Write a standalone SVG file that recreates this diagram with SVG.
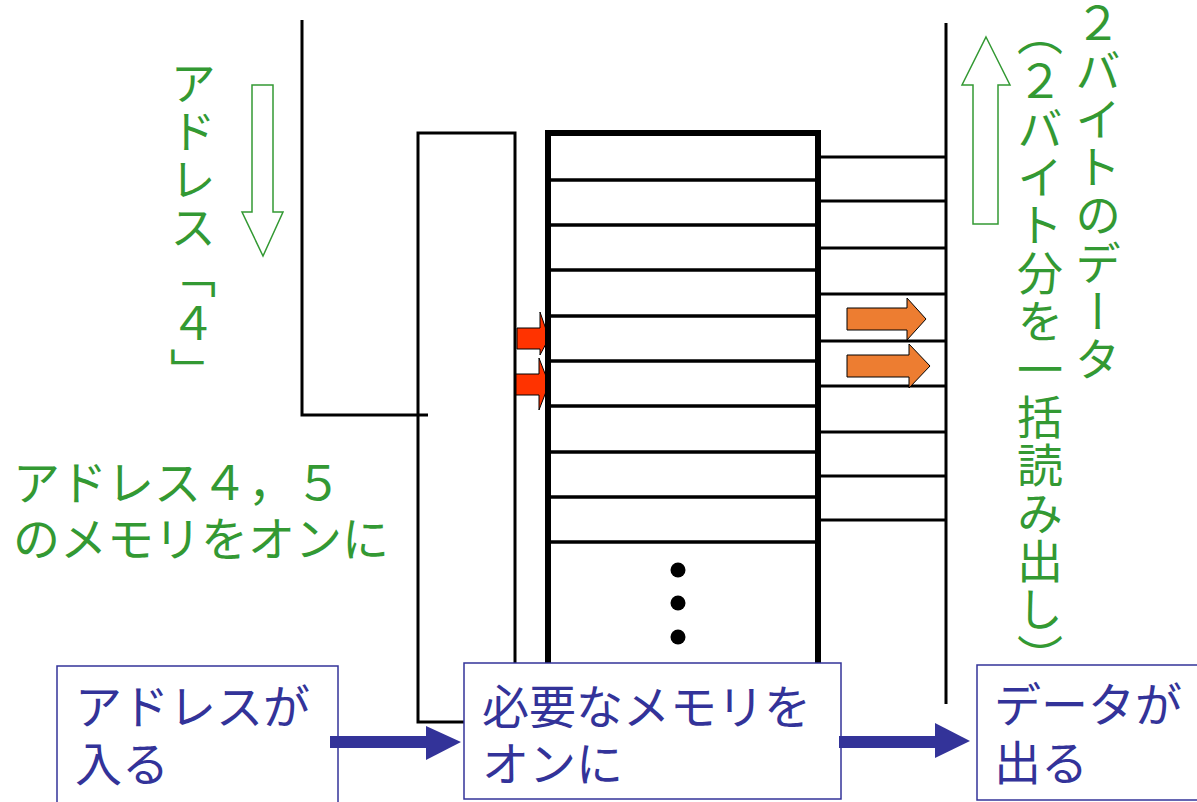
<svg xmlns="http://www.w3.org/2000/svg" width="1197" height="802" viewBox="0 0 1197 802">
<style>
.ln{stroke:#000;stroke-width:3;fill:none}
.thick{stroke:#000;stroke-width:6;fill:none}
.row{stroke:#000;stroke-width:3.5}
.g{fill:#339933;font-family:"Noto Sans CJK JP",sans-serif;font-size:47px}
.gv{fill:#339933;font-family:"Noto Sans CJK JP",sans-serif;font-size:46px;writing-mode:vertical-rl;letter-spacing:2px}
.b{fill:#333399;font-family:"Noto Sans CJK JP",sans-serif;font-size:47px}
.box{fill:#fff;stroke:#333399;stroke-width:1.5}
.hollow{fill:#fff;stroke:#339933;stroke-width:1.5}
.red{fill:#FF3300;stroke:#000;stroke-width:1}
.orange{fill:#ED7D31;stroke:#000;stroke-width:1}
.barrow{fill:#333399}
</style>
<rect width="1197" height="802" fill="#fff"/>

<g id="address-bus">
<polyline class="ln" points="302,20 302,415 428,415"/>
</g>

<g id="decoder">
<rect class="ln" x="418" y="133" width="97" height="589"/>
</g>

<g id="red-arrows">
<polygon class="red" points="517,328 540,328 540,312 549,338 540,355 540,349 517,349"/>
<polygon class="red" points="516,374 539,374 539,358 549,384 539,410 539,395 516,395"/>
</g>

<g id="memory">
<line class="row" x1="548" y1="180" x2="818" y2="180"/>
<line class="row" x1="548" y1="225" x2="818" y2="225"/>
<line class="row" x1="548" y1="270" x2="818" y2="270"/>
<line class="row" x1="548" y1="316" x2="818" y2="316"/>
<line class="row" x1="548" y1="361" x2="818" y2="361"/>
<line class="row" x1="548" y1="406" x2="818" y2="406"/>
<line class="row" x1="548" y1="452" x2="818" y2="452"/>
<line class="row" x1="548" y1="497" x2="818" y2="497"/>
<line class="row" x1="548" y1="542" x2="818" y2="542"/>
<polyline class="thick" points="548,664 548,133 818,133 818,664"/>
<circle cx="678" cy="570" r="7.5"/>
<circle cx="678" cy="603" r="7.5"/>
<circle cx="678" cy="637" r="7.5"/>
</g>

<g id="data-bus">
<line class="ln" x1="946" y1="23" x2="946" y2="704"/>
<line class="ln" x1="818" y1="157" x2="946" y2="157"/>
<line class="ln" x1="818" y1="201" x2="946" y2="201"/>
<line class="ln" x1="818" y1="248" x2="946" y2="248"/>
<line class="ln" x1="818" y1="294" x2="946" y2="294"/>
<line class="ln" x1="818" y1="341" x2="946" y2="341"/>
<line class="ln" x1="818" y1="386" x2="946" y2="386"/>
<line class="ln" x1="818" y1="432" x2="946" y2="432"/>
<line class="ln" x1="818" y1="476" x2="946" y2="476"/>
<line class="ln" x1="818" y1="520" x2="946" y2="520"/>
</g>

<g id="orange-arrows">
<polygon class="orange" points="847,308 907,308 907,298 926,319 907,340 907,330 847,330"/>
<polygon class="orange" points="847,355 909,355 909,344 930,366 909,388 909,377 847,377"/>
</g>

<g id="green-arrows">
<polygon class="hollow" points="252,85 273,85 273,212 283,212 263,256 242,212 252,212"/>
<polygon class="hollow" points="986,37 1010,85 998,85 998,224 973,224 973,85 962,85"/>
</g>

<g id="label-address4">
<text class="gv" x="193" y="60">アドレス「４」</text>
</g>

<g id="label-2byte">
<text class="gv" x="1098" y="0">２バイトのデータ</text>
<text class="gv" x="1040" y="10">（２バイト分を一括読み出し）</text>
</g>

<g id="label-on">
<text class="g" x="13" y="500">アドレス４，５</text>
<text class="g" x="13" y="556">のメモリをオンに</text>
</g>

<g id="box-input">
<rect class="box" x="57" y="666" width="281" height="140"/>
<text class="b" x="75" y="724">アドレスが</text>
<text class="b" x="75" y="781">入る</text>
</g>

<g id="box-select">
<rect class="box" x="464" y="663" width="377" height="136"/>
<text class="b" x="482" y="724">必要なメモリを</text>
<text class="b" x="482" y="781">オンに</text>
</g>

<g id="box-output">
<rect class="box" x="977" y="665" width="225" height="135"/>
<text class="b" x="994" y="722">データが</text>
<text class="b" x="994" y="780">出る</text>
</g>

<g id="connectors">
<rect class="barrow" x="330" y="736" width="98" height="12"/>
<polygon class="barrow" points="426,726 461,742 426,760"/>
<rect class="barrow" x="839" y="736" width="98" height="12"/>
<polygon class="barrow" points="935,723 970,741 935,758"/>
</g>
</svg>
